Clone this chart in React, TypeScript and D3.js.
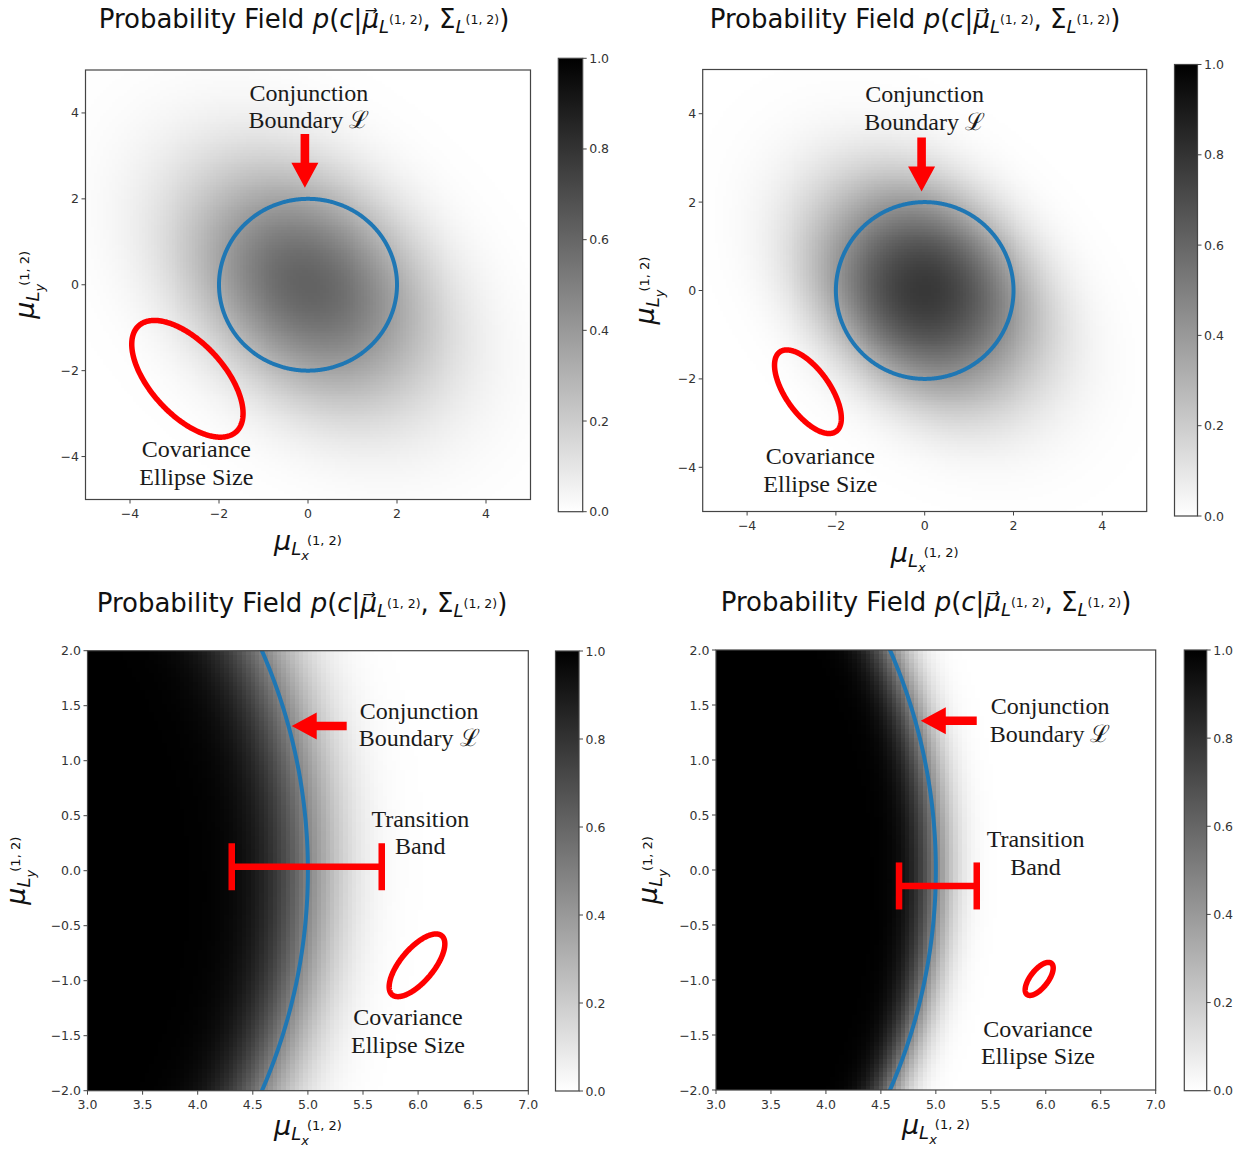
import React, { useMemo } from "react";
import * as d3 from "d3";

// ---------------- data ----------------
const xDomains: [number, number][] = [[-5, 5], [-5, 5], [3, 7], [3, 7]];
const yDomains: [number, number][] = [[-5, 5], [-5, 5], [-2, 2], [-2, 2]];
const xTickValues = [
  [-4, -2, 0, 2, 4],
  [-4, -2, 0, 2, 4],
  [3, 3.5, 4, 4.5, 5, 5.5, 6, 6.5, 7],
  [3, 3.5, 4, 4.5, 5, 5.5, 6, 6.5, 7],
];
const yTickValues = [
  [-4, -2, 0, 2, 4],
  [-4, -2, 0, 2, 4],
  [-2, -1.5, -1, -0.5, 0, 0.5, 1, 1.5, 2],
  [-2, -1.5, -1, -0.5, 0, 0.5, 1, 1.5, 2],
];
const tickFormats = ["d", "d", ".1f", ".1f"];
const colorbarTicks = [0, 0.2, 0.4, 0.6, 0.8, 1.0];

// conjunction boundary radius and field (position covariance) parameters per panel
const boundaryRadius = [2, 2, 5, 5];
const fieldSigmaMajor = [1.85, 1.45, 0.4, 0.22];
const fieldSigmaMinor = [1.05, 0.78, 0.34, 0.18];
const fieldAngleDeg = [-45, -45, 50, 50];
const fieldCells = [150, 150, 100, 100];

// annotation: covariance ellipse
const ellipseCenters = [[-2.71, -2.19], [-2.63, -2.29], [5.99, -0.86], [5.94, -0.99]];
const ellipseSemiAxes = [[1.65, 0.83], [1.1, 0.5], [0.35, 0.15], [0.18, 0.08]];
const ellipseAngleDeg = [-49, -55, 50, 52];

// annotation: arrow to boundary
const arrowTails = [[-0.07, 3.51], [-0.07, 3.46], [5.352, 1.315], [5.372, 1.357]];
const arrowTips = [[-0.07, 2.26], [-0.07, 2.24], [4.853, 1.315], [4.863, 1.357]];

// annotation: labels
const boundaryLabelLines = ["Conjunction", "Boundary \u2112"];
const boundaryLabelAnchor = [[0.02, 4.28], [0, 4.26], [6.01, 1.38], [6.04, 1.418]];
const ellipseLabelLines = ["Covariance", "Ellipse Size"];
const ellipseLabelAnchor = [[-2.51, -4.02], [-2.35, -3.93], [5.908, -1.403], [5.929, -1.515]];
const bandLabelLines = ["Transition", "Band"];
const bandLabelAnchor = [null, null, [6.02, 0.4], [5.907, 0.206]];
const bandY = [null, null, 0.036, -0.145];
const bandX = [null, null, [4.309, 5.67], [4.665, 5.372]];

// ---------------- layout ----------------
const plotBoxes = [
  { x0: 85.5, x1: 530.5, y0: 70, y1: 499.5 },
  { x0: 702.7, x1: 1146.7, y0: 69.5, y1: 511.5 },
  { x0: 87.5, x1: 528.3, y0: 650.7, y1: 1090.7 },
  { x0: 716, x1: 1155.7, y0: 650, y1: 1090 },
];
const cbBoxes = [
  { x0: 558.3, x1: 582.7, y0: 58.3, y1: 511.7 },
  { x0: 1174.5, x1: 1197.5, y0: 64.5, y1: 516 },
  { x0: 555.5, x1: 579, y0: 651, y1: 1091 },
  { x0: 1184.3, x1: 1206.7, y0: 650, y1: 1090.7 },
];
const titlePos = [
  { x: 304, y: 28 },
  { x: 915, y: 28 },
  { x: 302, y: 612 },
  { x: 926, y: 611 },
];
const xLabelOffset = [50, 50, 44, 44];
const yLabelOffset = [-52, -49, -63, -59];

const BLUE = "#1f77b4";
const RED = "#ff0000";
const AX = "#444";
const TXT = "#333";
const SANS = "'DejaVu Sans', sans-serif";
const SERIF = "'Liberation Serif', 'DejaVu Serif', serif";

// ---------------- math ----------------
function erf(x: number) {
  const s = x < 0 ? -1 : 1;
  const a = Math.abs(x);
  const t = 1 / (1 + 0.3275911 * a);
  const y = 1 - ((((1.061405429 * t - 1.453152027) * t + 1.421413741) * t - 0.284496736) * t + 0.254829592) * t * Math.exp(-a * a);
  return s * y;
}
const Phi = (z: number) => 0.5 * (1 + erf(z / Math.SQRT2));

function collisionProb(mx: number, my: number, R: number, s1: number, s2: number, th: number, nq: number) {
  const c = Math.cos(th), s = Math.sin(th);
  const mu = mx * c + my * s;
  const mv = -mx * s + my * c;
  let sum = 0;
  const dt = Math.PI / nq;
  const k = 1 / (s1 * Math.sqrt(2 * Math.PI));
  for (let i = 0; i < nq; i++) {
    const t = -Math.PI / 2 + (i + 0.5) * dt;
    const u = R * Math.sin(t);
    const h = R * Math.cos(t);
    const zu = (u - mu) / s1;
    if (Math.abs(zu) > 8) continue;
    const w = k * Math.exp(-0.5 * zu * zu);
    sum += w * (Phi((h - mv) / s2) - Phi((-h - mv) / s2)) * h * dt;
  }
  return Math.max(0, Math.min(1, sum));
}

function Panel({ i }: { i: number }) {
  const box = plotBoxes[i];
  const cb = cbBoxes[i];
  const xs = d3.scaleLinear().domain(xDomains[i]).range([box.x0, box.x1]);
  const ys = d3.scaleLinear().domain(yDomains[i]).range([box.y1, box.y0]);
  const cs = d3.scaleLinear().domain([0, 1]).range([cb.y1, cb.y0]);
  const fmt = d3.format(tickFormats[i]);
  const cfmt = d3.format(".1f");

  const heat = useMemo(() => {
    const n = fieldCells[i];
    const [xa, xb] = xDomains[i];
    const [ya, yb] = yDomains[i];
    const dx = (xb - xa) / n, dy = (yb - ya) / n;
    const th = (fieldAngleDeg[i] * Math.PI) / 180;
    const nq = boundaryRadius[i] / Math.min(fieldSigmaMajor[i], fieldSigmaMinor[i]) > 8 ? 500 : 200;
    const groups: string[][] = Array.from({ length: 256 }, () => []);
    for (let a = 0; a < n; a++) {
      for (let b = 0; b < n; b++) {
        const cx = xa + (a + 0.5) * dx;
        const cy = ya + (b + 0.5) * dy;
        const v = collisionProb(cx, cy, boundaryRadius[i], fieldSigmaMajor[i], fieldSigmaMinor[i], th, nq);
        const lvl = Math.round((1 - v) * 255);
        const px0 = xs(xa + a * dx), px1 = xs(xa + (a + 1) * dx);
        const py0 = ys(ya + b * dy), py1 = ys(ya + (b + 1) * dy);
        groups[lvl].push(`M${px0.toFixed(2)},${py1.toFixed(2)}H${px1.toFixed(2)}V${py0.toFixed(2)}H${px0.toFixed(2)}Z`);
      }
    }
    return groups.map((g, l) => ({ l, d: g.join("") })).filter((g) => g.d.length > 0);
  }, [i]);

  const circle = useMemo(() => {
    const R = boundaryRadius[i];
    const pts: [number, number][] = d3.range(0, 721).map((k) => {
      const t = (k / 720) * 2 * Math.PI;
      return [xs(R * Math.cos(t)), ys(R * Math.sin(t))];
    });
    return d3.line()(pts) as string;
  }, [i]);

  const ellipse = useMemo(() => {
    const [cx, cy] = ellipseCenters[i];
    const [a, b] = ellipseSemiAxes[i];
    const ph = (ellipseAngleDeg[i] * Math.PI) / 180;
    const pts: [number, number][] = d3.range(0, 360).map((k) => {
      const t = (k / 360) * 2 * Math.PI;
      const ex = cx + a * Math.cos(t) * Math.cos(ph) - b * Math.sin(t) * Math.sin(ph);
      const ey = cy + a * Math.cos(t) * Math.sin(ph) + b * Math.sin(t) * Math.cos(ph);
      return [xs(ex), ys(ey)];
    });
    return d3.line().curve(d3.curveLinearClosed)(pts) as string;
  }, [i]);

  const arrow = (() => {
    const tx = xs(arrowTails[i][0]), ty = ys(arrowTails[i][1]);
    const hx = xs(arrowTips[i][0]), hy = ys(arrowTips[i][1]);
    const L = Math.hypot(hx - tx, hy - ty);
    const ux = (hx - tx) / L, uy = (hy - ty) / L;
    const nx = -uy, ny = ux;
    const sw = 4.3, hw = 13.5, hl = 25;
    const bx = hx - ux * hl, by = hy - uy * hl;
    const p = [
      [tx + nx * sw, ty + ny * sw],
      [bx + nx * sw, by + ny * sw],
      [bx + nx * hw, by + ny * hw],
      [hx, hy],
      [bx - nx * hw, by - ny * hw],
      [bx - nx * sw, by - ny * sw],
      [tx - nx * sw, ty - ny * sw],
    ];
    return "M" + p.map((q) => q[0].toFixed(2) + "," + q[1].toFixed(2)).join("L") + "Z";
  })();

  const clipId = `clip${i}`;
  const gradId = `grad${i}`;
  const cx = (box.x0 + box.x1) / 2;
  const cyMid = (box.y0 + box.y1) / 2;
  const lineH = 27.5;

  const serifText = (lines: string[], pos: number[] | null, key: string) =>
    pos ? (
      <g key={key}>
        {lines.map((ln, k) => (
          <text key={k} x={xs(pos[0])} y={ys(pos[1]) + k * lineH} textAnchor="middle" fontFamily={SERIF} fontSize={24} fill="#1a1a1a">
            {ln}
          </text>
        ))}
      </g>
    ) : null;

  const axisLabel = (sub: string) => [
    <tspan key="m" fontStyle="italic" fontSize={27}>μ</tspan>,
    <tspan key="l" fontStyle="italic" fontSize={18} dy={5}>L</tspan>,
    <tspan key="s" fontStyle="italic" fontSize={13} dy={5}>{sub}</tspan>,
    <tspan key="p" fontSize={13} dx={-2} dy={-15}>(1, 2)</tspan>,
  ];

  return (
    <g>
      <defs>
        <clipPath id={clipId}>
          <rect x={box.x0} y={box.y0} width={box.x1 - box.x0} height={box.y1 - box.y0} />
        </clipPath>
        <linearGradient id={gradId} x1="0" y1="1" x2="0" y2="0">
          <stop offset="0" stopColor="#fff" />
          <stop offset="1" stopColor="#000" />
        </linearGradient>
      </defs>

      {/* title */}
      <text x={titlePos[i].x} y={titlePos[i].y} textAnchor="middle" fontFamily={SANS} fontSize={26} fill="#111">
        <tspan>Probability Field </tspan>
        <tspan fontStyle="italic">p</tspan>
        <tspan>(</tspan>
        <tspan fontStyle="italic">c</tspan>
        <tspan>|</tspan>
        <tspan fontStyle="italic">{"\u03bc\u20d7"}</tspan>
        <tspan fontStyle="italic" fontSize={18} dy={5}>L</tspan>
        <tspan fontSize={12.5} dy={-9}>(1, 2)</tspan>
        <tspan dy={4}>, Σ</tspan>
        <tspan fontStyle="italic" fontSize={18} dy={5}>L</tspan>
        <tspan fontSize={12.5} dy={-9}>(1, 2)</tspan>
        <tspan dy={4}>)</tspan>
      </text>

      {/* heatmap */}
      <g clipPath={`url(#${clipId})`} shapeRendering="crispEdges">
        {heat.map((g) => (
          <path key={g.l} d={g.d} fill={`rgb(${g.l},${g.l},${g.l})`} />
        ))}
      </g>

      {/* boundary circle */}
      <g clipPath={`url(#${clipId})`}>
        <path d={circle} fill="none" stroke={BLUE} strokeWidth={4} />
      </g>

      {/* annotations */}
      <path d={arrow} fill={RED} />
      <path d={ellipse} fill="none" stroke={RED} strokeWidth={5.5} />
      {bandY[i] !== null && bandX[i] && (
        <g stroke={RED} strokeWidth={6.5} fill="none">
          <line x1={xs(bandX[i]![0])} x2={xs(bandX[i]![1])} y1={ys(bandY[i]!)} y2={ys(bandY[i]!)} />
          {bandX[i]!.map((bx, k) => (
            <line key={k} x1={xs(bx)} x2={xs(bx)} y1={ys(bandY[i]!) - 23.5} y2={ys(bandY[i]!) + 23.5} />
          ))}
        </g>
      )}
      {serifText(boundaryLabelLines, boundaryLabelAnchor[i], "b")}
      {serifText(ellipseLabelLines, ellipseLabelAnchor[i], "e")}
      {serifText(bandLabelLines, bandLabelAnchor[i] as number[] | null, "t")}

      {/* frame */}
      <rect x={box.x0} y={box.y0} width={box.x1 - box.x0} height={box.y1 - box.y0} fill="none" stroke={AX} strokeWidth={1.2} />

      {/* x ticks */}
      {xTickValues[i].map((t) => (
        <g key={"x" + t}>
          <line x1={xs(t)} x2={xs(t)} y1={box.y1} y2={box.y1 + 4} stroke={AX} strokeWidth={1} />
          <text x={xs(t)} y={box.y1 + 18.5} textAnchor="middle" fontFamily={SANS} fontSize={12.5} fill={TXT}>
            {fmt(t)}
          </text>
        </g>
      ))}
      {/* y ticks */}
      {yTickValues[i].map((t) => (
        <g key={"y" + t}>
          <line x1={box.x0 - 4} x2={box.x0} y1={ys(t)} y2={ys(t)} stroke={AX} strokeWidth={1} />
          <text x={box.x0 - 6.5} y={ys(t) + 4.5} textAnchor="end" fontFamily={SANS} fontSize={12.5} fill={TXT}>
            {fmt(t)}
          </text>
        </g>
      ))}

      {/* x label */}
      <text x={cx} y={box.y1 + xLabelOffset[i]} textAnchor="middle" fontFamily={SANS} fill="#111">
        {axisLabel("x")}
      </text>
      {/* y label */}
      <text transform={`translate(${box.x0 + yLabelOffset[i]},${cyMid}) rotate(-90)`} textAnchor="middle" fontFamily={SANS} fill="#111">
        {axisLabel("y")}
      </text>

      {/* colorbar */}
      <rect x={cb.x0} y={cb.y0} width={cb.x1 - cb.x0} height={cb.y1 - cb.y0} fill={`url(#${gradId})`} stroke={AX} strokeWidth={1.2} />
      {colorbarTicks.map((t) => (
        <g key={"c" + t}>
          <line x1={cb.x1} x2={cb.x1 + 4} y1={cs(t)} y2={cs(t)} stroke={AX} strokeWidth={1} />
          <text x={cb.x1 + 6.5} y={cs(t) + 4.5} fontFamily={SANS} fontSize={12.5} fill={TXT}>
            {cfmt(t)}
          </text>
        </g>
      ))}
    </g>
  );
}

export default function App() {
  return (
    <svg
      width={1239}
      height={1149}
      viewBox="0 0 1239 1149"
      style={{ position: "absolute", left: 0, top: 0, background: "#fff" }}
    >
      <rect x={0} y={0} width={1239} height={1149} fill="#fff" />
      {[0, 1, 2, 3].map((i) => (
        <Panel key={i} i={i} />
      ))}
    </svg>
  );
}
